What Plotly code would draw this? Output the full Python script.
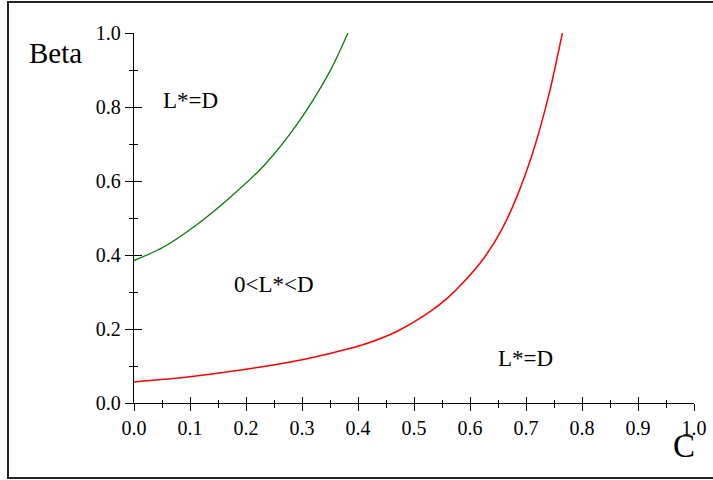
import plotly.graph_objects as go

# --- data ---
green_c = [0.0, 0.052, 0.112, 0.171, 0.231, 0.291, 0.35, 0.382]
green_beta = [0.385, 0.421, 0.482, 0.555, 0.640, 0.753, 0.897, 1.0]

red_c = [0.0, 0.1, 0.2, 0.3, 0.35, 0.41, 0.47, 0.53, 0.56, 0.59, 0.625, 0.655, 0.683, 0.713, 0.741, 0.765]
red_beta = [0.057, 0.071, 0.091, 0.117, 0.134, 0.158, 0.194, 0.248, 0.284, 0.329, 0.392, 0.464, 0.555, 0.681, 0.834, 1.0]

region_labels = ["L*=D", "0<L*<D", "L*=D"]
region_c = [0.1, 0.2495, 0.6996]
region_beta = [0.818, 0.319, 0.1197]

tick_vals = [0.0, 0.1, 0.2, 0.3, 0.4, 0.5, 0.6, 0.7, 0.8, 0.9, 1.0]
tick_text = ["0.0", "0.1", "0.2", "0.3", "0.4", "0.5", "0.6", "0.7", "0.8", "0.9", "1.0"]
ytick_vals = [0.0, 0.2, 0.4, 0.6, 0.8, 1.0]
ytick_text = ["0.0", "0.2", "0.4", "0.6", "0.8", "1.0"]

FONT = "Liberation Serif"

fig = go.Figure()
fig.add_trace(go.Scatter(x=green_c, y=green_beta, mode="lines",
                         line=dict(color="#008000", width=1.3, shape="spline", smoothing=0.8),
                         showlegend=False, hoverinfo="skip"))
fig.add_trace(go.Scatter(x=red_c, y=red_beta, mode="lines",
                         line=dict(color="#ff0000", width=1.5, shape="spline", smoothing=0.8),
                         showlegend=False, hoverinfo="skip"))
# dummy trace to materialise overlay axes (for crossing ticks)
fig.add_trace(go.Scatter(x=[None], y=[None], xaxis="x2", yaxis="y2",
                         showlegend=False, hoverinfo="skip"))

for txt, cx, by in zip(region_labels, region_c, region_beta):
    fig.add_annotation(x=cx, y=by, text=txt, showarrow=False,
                       xanchor="center", yanchor="middle",
                       font=dict(family=FONT, size=23, color="black"))

fig.add_annotation(xref="paper", yref="paper", x=(55.5 - 134) / 560, y=(403.5 - 53) / 370,
                   text="Beta", showarrow=False, xanchor="center", yanchor="middle",
                   font=dict(family=FONT, size=29, color="black"))
fig.add_annotation(xref="paper", yref="paper", x=(684 - 134) / 560, y=(403.5 - 446) / 370,
                   text="C", showarrow=False, xanchor="center", yanchor="middle",
                   font=dict(family=FONT, size=33, color="black"))

fig.add_shape(type="rect", xref="paper", yref="paper",
              x0=-0.225, x1=1.036, y0=-0.2027, y1=1.0838,
              line=dict(color="#222222", width=2), layer="below")

common = dict(showgrid=False, zeroline=False, range=[0, 1.0], automargin=False,
              linecolor="black", linewidth=1.3, tickcolor="black", tickwidth=1.3)

fig.update_layout(
    width=713, height=480,
    margin=dict(l=134, r=19, t=33, b=77, autoexpand=False),
    paper_bgcolor="white", plot_bgcolor="white",
    font=dict(family=FONT, size=20, color="black"),
    xaxis=dict(**common, showline=True, ticks="outside", ticklen=7,
               tickvals=tick_vals, ticktext=tick_text,
               minor=dict(ticks="outside", ticklen=4, dtick=0.05, tick0=0,
                          tickcolor="black", tickwidth=1.1),
               tickfont=dict(family=FONT, size=20)),
    yaxis=dict(**common, showline=True, ticks="outside", ticklen=8,
               tickvals=ytick_vals, ticktext=ytick_text,
               minor=dict(ticks="outside", ticklen=4, dtick=0.1, tick0=0,
                          tickcolor="black", tickwidth=1.1),
               tickfont=dict(family=FONT, size=20)),
    xaxis2=dict(**common, overlaying="x", anchor="y2", side="bottom",
                showline=False, ticks="inside", ticklen=6,
                tickvals=tick_vals, showticklabels=False,
                minor=dict(ticks="inside", ticklen=3, dtick=0.05, tick0=0,
                           tickcolor="black", tickwidth=1.1)),
    yaxis2=dict(**common, overlaying="y", anchor="x2", side="left",
                showline=False, ticks="inside", ticklen=8,
                tickvals=ytick_vals, showticklabels=False,
                minor=dict(ticks="inside", ticklen=4, dtick=0.1, tick0=0,
                           tickcolor="black", tickwidth=1.1)),
)

fig.write_html("out.html", config={"displayModeBar": False},
               post_script="document.body.style.margin='0';document.body.style.overflow='hidden';")
